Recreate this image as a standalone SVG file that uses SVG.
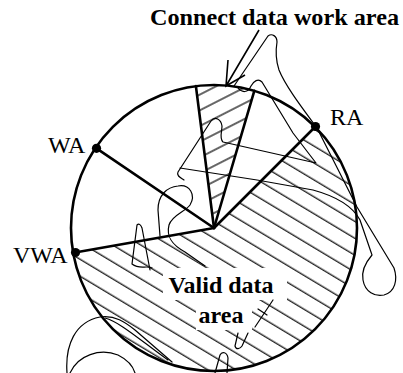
<svg xmlns="http://www.w3.org/2000/svg" width="403" height="373" viewBox="0 0 403 373">
<style>
.thick{stroke:#000;stroke-width:2.6;fill:none;stroke-linecap:round}
.scr{stroke:#000;stroke-width:1.2;fill:none;stroke-linejoin:round;stroke-linecap:round}
.lbl{font-family:"Liberation Serif",serif;font-size:24px;fill:#000}
.b{font-weight:bold}
.dot{fill:#000}
</style>
<defs>
<pattern id="hValid" patternUnits="userSpaceOnUse" width="10" height="14.5" patternTransform="rotate(31)">
<line x1="0" y1="7" x2="10" y2="7" stroke="#000" stroke-width="1.2"/>
</pattern>
<pattern id="hWedge" patternUnits="userSpaceOnUse" width="10" height="14" patternTransform="rotate(-27)">
<line x1="0" y1="7" x2="10" y2="7" stroke="#000" stroke-width="1.2"/>
</pattern>
</defs>
<rect width="403" height="373" fill="#fff"/>
<g id="areas">
<path id="valid-area" d="M214,228 L314.6,126.4 A143,143 0 1,1 73.2,252.7 Z" fill="url(#hValid)"/>
<path id="connect-area" d="M214,228 L195.9,86.1 A143,143 0 0,1 254.3,90.8 Z" fill="url(#hWedge)"/>
<rect x="163" y="268" width="124" height="32" fill="#fff"/>
<rect x="196" y="300" width="56" height="30" fill="#fff"/>
</g>
<g id="scribbles">
<path class="scr" d="M180,168 L257,180 L313,190 C335,196 352,205 360,220 L372,255 C366,262 361,270 363,280 C365,292 375,297 384,295 C395,292 398,280 394,268 L357,207 L317,128 C300,105 285,85 279,70 C275,58 276,48 277,42 C277,36 272,33 268,36 L234,86"/>
<path class="scr" d="M238,88 C242,93 248,93 251,86 C254,81 258,78 262,82 L293,133 L316,163 L223,142 C219,138 222,132 222,126 C221,119 215,116 211,121 L178,172 C176,176 181,178 184,180"/>
<path class="scr" d="M160,236 L158,210 C158,195 167,187 178,186 C190,184 196,195 190,205 C185,212 172,215 169,225 C166,237 172,245 185,252 L205,266"/>
<path class="scr" d="M152,268 C146,265 140,270 132,264 L137,225 C139,223 141,225 142,228 L150,270"/>
<path class="scr" d="M67,373 C65,345 75,322 100,317 C115,315 125,322 135,330 L172,362"/>
<path class="scr" d="M105,318 C120,322 140,340 168,360"/>
<path class="scr" d="M70,373 C78,355 100,348 118,355 C128,360 133,366 135,373"/>
<path class="scr" d="M215,373 L220,355 C222,351 227,352 228,358 L227,373"/>
<path class="scr" d="M273,300 L255,327 M258,309 L267,315 M238,333 L235,346 C236,350 240,349 242,346 L248,333"/>
</g>
<g id="connectors">
<circle class="thick" cx="214" cy="228" r="143"/>
<line class="thick" x1="214" y1="228" x2="96.5" y2="148.3"/>
<line class="thick" x1="214" y1="228" x2="75" y2="252.5"/>
<line class="thick" x1="214" y1="228" x2="315.5" y2="126.5"/>
<line class="thick" x1="214" y1="228" x2="195.9" y2="86.1"/>
<line class="thick" x1="214" y1="228" x2="254.3" y2="90.8"/>
<path id="arrow" d="M259,30 L226,86 M228,60 L226,86 L245,75" stroke="#000" stroke-width="1.6" fill="none" stroke-linejoin="miter"/>
</g>
<g id="node-WA"><circle class="dot" cx="96.5" cy="148.3" r="4.6"/><text class="lbl" x="48" y="153">WA</text></g>
<g id="node-VWA"><circle class="dot" cx="75.5" cy="252.5" r="4.6"/><text class="lbl" x="13" y="263">VWA</text></g>
<g id="node-RA"><circle class="dot" cx="315.5" cy="126.5" r="4.6"/><text class="lbl" x="330" y="125">RA</text></g>
<g id="label-connect"><text class="lbl b" x="150" y="25" textLength="249" lengthAdjust="spacingAndGlyphs">Connect data work area</text></g>
<g id="label-valid"><text class="lbl b" x="221" y="293" text-anchor="middle">Valid data</text><text class="lbl b" x="221" y="323" text-anchor="middle">area</text></g>
</svg>
